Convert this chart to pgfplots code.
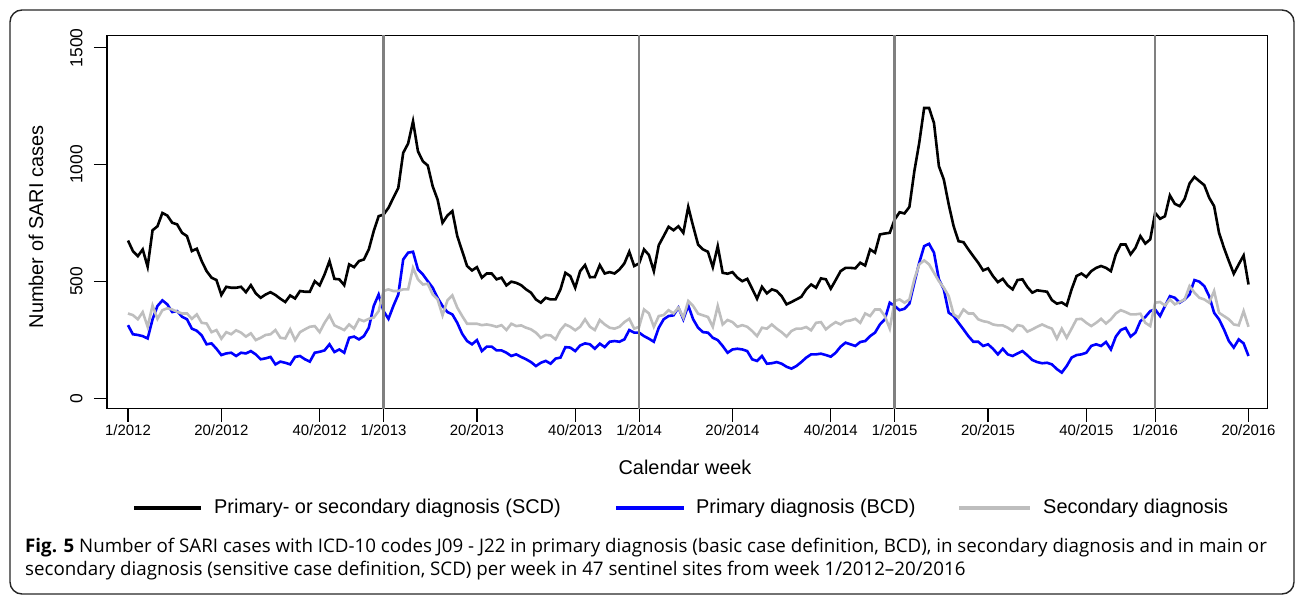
\documentclass[border=0pt]{standalone}
\usepackage{fontspec}
\setmainfont{Liberation Sans}
\newfontfamily\capfont{Open Sans}
\usepackage{pgfplots}
\usepackage{pgfplotstable}
\pgfplotsset{compat=1.18}
\definecolor{sgray}{RGB}{190,190,190}
\definecolor{vgray}{RGB}{128,128,128}

% w = week index from 1/2012; b = primary or secondary (SCD); p = primary (BCD); s = secondary
\pgfplotstableread{
w b p s
0 675 313 363
1 630 274 356
2 608 271 338
3 637 266 369
4 563 256 306
5 719 338 397
6 736 395 340
7 793 419 377
8 782 402 385
9 751 369 380
10 744 373 370
11 708 349 363
12 694 338 363
13 630 298 340
14 640 289 359
15 587 269 323
16 544 231 320
17 516 235 283
18 506 212 292
19 442 185 255
20 477 192 283
21 473 195 274
22 473 181 291
23 477 195 281
24 454 192 264
25 484 202 278
26 449 188 249
27 430 167 259
28 444 171 271
29 454 177 274
30 442 145 292
31 426 157 259
32 412 152 256
33 440 145 295
34 427 177 249
35 459 181 283
36 456 167 295
37 456 157 306
38 501 195 309
39 483 199 283
40 530 205 323
41 587 231 355
42 511 198 312
43 509 209 302
44 484 195 292
45 573 259 316
46 561 264 298
47 587 252 338
48 594 266 330
49 637 302 340
50 715 395 345
51 779 444 373
52 786 373 459
53 815 340 466
54 858 395 459
55 900 444 459
56 1050 594 466
57 1090 623 466
58 1185 627 558
59 1057 551 509
60 1014 530 487
61 996 501 490
62 907 473 444
63 850 430 423
64 751 395 355
65 782 369 419
66 801 359 440
67 694 323 388
68 630 276 352
69 566 245 319
70 547 231 319
71 561 249 319
72 516 202 313
73 534 221 316
74 534 221 312
75 509 205 306
76 516 205 313
77 483 195 292
78 499 181 319
79 494 188 309
80 484 177 312
81 466 167 302
82 452 155 295
83 423 138 281
84 409 152 259
85 430 160 271
86 423 148 269
87 423 170 252
88 466 174 292
89 537 219 316
90 523 217 306
91 473 202 291
92 544 226 306
93 570 235 338
94 518 231 306
95 519 212 292
96 570 234 335
97 534 219 316
98 540 242 302
99 534 245 298
100 551 242 306
101 577 252 326
102 627 292 340
103 566 281 298
104 577 281 306
105 637 266 380
106 613 255 363
107 544 242 306
108 655 302 352
109 694 338 356
110 734 352 377
111 719 355 363
112 736 388 388
113 708 338 345
114 819 397 416
115 736 338 395
116 658 302 362
117 637 283 355
118 627 281 348
119 561 259 306
120 651 249 395
121 537 224 316
122 533 195 335
123 540 209 326
124 516 212 306
125 501 209 313
126 511 202 306
127 469 167 288
128 426 160 266
129 477 181 302
130 449 148 298
131 466 150 316
132 459 155 298
133 437 148 283
134 402 135 264
135 412 127 288
136 423 138 298
137 434 155 298
138 466 174 305
139 487 188 291
140 473 188 323
141 513 191 326
142 509 185 295
143 469 178 312
144 506 195 326
145 544 221 316
146 558 238 330
147 558 231 333
148 556 224 340
149 580 241 323
150 568 245 363
151 637 266 352
152 623 281 380
153 701 316 380
154 705 338 352
155 708 409 298
156 765 395 416
157 796 377 423
158 791 383 409
159 819 405 423
160 971 494 509
161 1093 580 573
162 1242 651 590
163 1242 661 573
164 1178 623 537
165 993 509 501
166 936 466 473
167 829 366 437
168 736 352 359
169 672 323 345
170 668 295 380
171 637 266 363
172 608 242 363
173 580 242 338
174 547 224 330
175 556 231 326
176 523 212 316
177 497 188 312
178 511 212 312
179 483 188 302
180 466 181 288
181 506 192 313
182 509 202 309
183 476 184 285
184 452 164 295
185 462 155 306
186 459 150 316
187 456 152 306
188 420 145 298
189 405 125 255
190 410 110 298
191 397 138 259
192 466 174 298
193 523 185 338
194 534 188 340
195 519 195 323
196 544 224 309
197 558 231 323
198 566 224 340
199 558 241 320
200 544 209 338
201 616 264 363
202 658 292 377
203 658 301 369
204 616 264 359
205 644 281 359
206 694 330 362
207 662 348 323
208 680 373 309
209 793 380 409
210 768 352 412
211 779 395 397
212 868 437 423
213 832 430 402
214 822 409 412
215 853 423 423
216 919 444 480
217 947 506 452
218 929 499 430
219 912 480 423
220 858 437 409
221 822 366 459
222 708 338 366
223 644 295 352
224 587 245 338
225 533 217 316
226 573 252 312
227 611 235 373
228 487 181 306
}\datatable

\begin{document}
\begin{tikzpicture}
\path[use as bounding box] (-107bp,-187.5bp) rectangle (1188bp,408.5bp);
\draw[line width=1.4bp, rounded corners=12bp, black!85] (-97bp,-185.5bp) rectangle (1187bp,398.5bp);
\begin{axis}[
  at={(0,0)}, anchor=south west,
  scale only axis, width=1160.7bp, height=372.8bp,
  xmin=-4.27, xmax=231.9, ymin=-43.6, ymax=1551.3,
  axis line style={line width=1.6bp},
  tick style={line width=1.2bp, black},
  tick align=outside, major tick length=13bp,
  xtick pos=bottom, ytick pos=left,
  xtick={0,19,39,52,71,91,104,123,143,156,175,195,209,228},
  xticklabels={1/2012,20/2012,40/2012,1/2013,20/2013,40/2013,1/2014,20/2014,40/2014,1/2015,20/2015,40/2015,1/2016,20/2016},
  ytick={0,500,1000,1500},
  yticklabel style={rotate=90, anchor=south, font=\fontsize{17.5}{19}\selectfont},
  yticklabel shift=8bp,
  xticklabel style={font=\fontsize{15}{17}\selectfont},
  /pgf/number format/assume math mode=true,
  /pgf/number format/1000 sep={},
  scaled y ticks=false,
  xlabel={Calendar week},
  ylabel={Number of SARI cases},
  label style={font=\fontsize{20}{24}\selectfont},
  xlabel style={at={(axis description cs:0.498,-0.157)}, anchor=center},
  ylabel style={at={(axis description cs:-0.0612,0.487)}, anchor=center},
  no marks,
]
\addplot[black, line width=2.6bp] table[x=w,y=b]{\datatable};
\addplot[blue, line width=2.6bp] table[x=w,y=p]{\datatable};
\addplot[sgray, line width=2.6bp] table[x=w,y=s]{\datatable};
\addplot[vgray, line width=2.6bp] coordinates {(52,-100) (52,1700)};
\addplot[vgray, line width=2.6bp] coordinates {(104,-100) (104,1700)};
\addplot[vgray, line width=2.6bp] coordinates {(156,-100) (156,1700)};
\addplot[vgray, line width=2.6bp] coordinates {(209,-100) (209,1700)};
\end{axis}
% legend
\draw[black, line width=3.5bp] (27bp,-99.5bp) -- (94bp,-99.5bp);
\node[anchor=west, inner sep=0pt, font=\fontsize{20}{24}\selectfont] at (107bp,-99.5bp) {Primary- or secondary diagnosis (SCD)};
\draw[blue, line width=3.5bp] (509bp,-99.5bp) -- (577bp,-99.5bp);
\node[anchor=west, inner sep=0pt, font=\fontsize{20}{24}\selectfont] at (589bp,-99.5bp) {Primary diagnosis (BCD)};
\draw[sgray, line width=3.5bp] (852bp,-99.5bp) -- (923bp,-99.5bp);
\node[anchor=west, inner sep=0pt, font=\fontsize{20}{24}\selectfont] at (936bp,-99.5bp) {Secondary diagnosis};
% caption
\node[anchor=base west, inner sep=0pt, font=\capfont\fontsize{18.8}{22}\selectfont] at (-82bp,-144.2bp) {\textbf{Fig. 5} Number of SARI cases with ICD-10 codes J09 - J22 in primary diagnosis (basic case definition, BCD), in secondary diagnosis and in main or};
\node[anchor=base west, inner sep=0pt, font=\capfont\fontsize{18.8}{22}\selectfont] at (-82bp,-166.5bp) {secondary diagnosis (sensitive case definition, SCD) per week in 47 sentinel sites from week 1/2012–20/2016};
\end{tikzpicture}
\end{document}
